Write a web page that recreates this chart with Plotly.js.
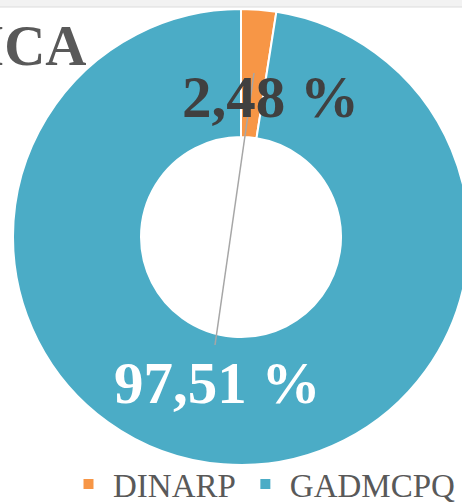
<!DOCTYPE html>
<html><head><meta charset="utf-8">
<script src="https://cdn.plot.ly/plotly-3.0.1.min.js"></script>
<style>html,body{margin:0;padding:0;overflow:hidden;background:#fff;width:462px;height:503px}#chart{width:500px;height:503px}</style>
</head><body><div id="chart"></div>
<script>
const categories = ["DINARP", "GADMCPQ"];
const values = [2.48, 97.51];
const colors = ["#f79646", "#4bacc6"];
const titleText = "ICA";

const W = 500, H = 503;
const px = x => x / W, py = y => (H - y) / H;
const fmt = v => v.toFixed(2).replace('.', ',') + ' %';

const trace = {
  type: 'pie', labels: categories, values: values, sort: false, direction: 'clockwise', rotation: 0,
  hole: 0.4386, textinfo: 'none', hoverinfo: 'none',
  marker: {colors: colors, line: {color: '#ffffff', width: 2}},
  domain: {x: [px(13), px(469)], y: [py(465), py(9)]}
};
const serif = '"Liberation Serif", "Times New Roman", serif';
const layout = {
  width: W, height: H, margin: {l: 0, r: 0, t: 0, b: 0, autoexpand: false},
  paper_bgcolor: '#ffffff', showlegend: true,
  legend: {orientation: 'h', xref: 'container', yref: 'container', x: px(64), xanchor: 'left', y: py(456), yanchor: 'top',
    itemwidth: 39,
    font: {family: serif, size: 33, color: '#595959'}, bgcolor: 'rgba(0,0,0,0)'},
  shapes: [
    {type: 'rect', xref: 'paper', yref: 'paper', x0: 0, x1: 1, y0: py(7), y1: 1, fillcolor: '#f2f2f2', line: {width: 0}, layer: 'above'},
    {type: 'line', xref: 'paper', yref: 'paper', x0: 0, x1: 1, y0: py(7), y1: py(7), line: {color: '#dcdcdc', width: 1}, layer: 'above'},
    {type: 'line', xref: 'paper', yref: 'paper', x0: px(254), y0: py(73), x1: px(215), y1: py(345), line: {color: '#a6a6a6', width: 1.5}, layer: 'above'}
  ],
  annotations: [
    {text: '<b>' + titleText + '</b>', xref: 'paper', yref: 'paper', x: px(89), y: py(46), xanchor: 'right', yanchor: 'middle', showarrow: false,
      font: {family: serif, size: 57, color: '#595959'}},
    {text: '<b>' + fmt(values[0]) + '</b>', xref: 'paper', yref: 'paper', x: px(270), y: py(97), xanchor: 'center', yanchor: 'middle', showarrow: false,
      font: {family: serif, size: 59, color: '#404040'}},
    {text: '<b>' + fmt(values[1]) + '</b>', xref: 'paper', yref: 'paper', x: px(217), y: py(383), xanchor: 'center', yanchor: 'middle', showarrow: false,
      font: {family: serif, size: 59, color: '#ffffff'}}
  ]
};
Plotly.newPlot('chart', [trace], layout, {staticPlot: true, displayModeBar: false});
</script></body></html>
